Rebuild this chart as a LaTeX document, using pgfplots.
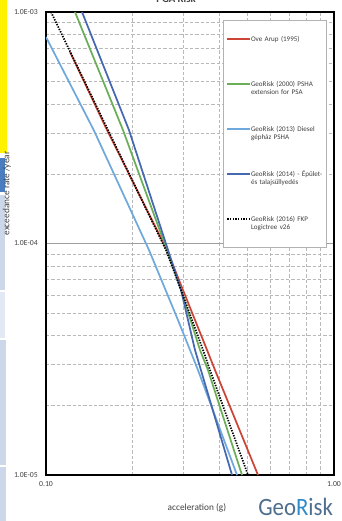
\documentclass[border=0pt]{standalone}
\usepackage{pgfplots}
\pgfplotsset{compat=1.18}
\usepackage{fontspec}
\setmainfont{Carlito}
\setsansfont{Carlito}
\definecolor{cRed}{HTML}{CC4436}
\definecolor{cGreen}{HTML}{6BAE58}
\definecolor{cLBlue}{HTML}{6FA8DC}
\definecolor{cDBlue}{HTML}{4668B0}
\definecolor{txt}{HTML}{404040}
\definecolor{logoGray}{HTML}{4E6E8E}
\definecolor{logoBlue}{HTML}{2E8BC9}
\definecolor{stripBlue}{HTML}{4A7DBF}
\definecolor{stripLight}{HTML}{CCD7EA}
\definecolor{stripLighter}{HTML}{E3E9F4}
\begin{document}
\begin{tikzpicture}[x=1pt,y=1pt]
\path[use as bounding box] (0,0) rectangle (256.5,390.75);
% decorative side strips
\fill[yellow] (0,276) rectangle (5,390.75);
\fill[stripBlue] (0,246.75) rectangle (3.5,272.25);
\fill[stripLight] (0,173.25) rectangle (3.5,244.5);
\fill[stripLighter] (0,137.25) rectangle (3.5,171.75);
\fill[stripLight] (0,42) rectangle (4.5,135.75);
\fill[stripLight] (0,0) rectangle (4.5,40.5);
% title (mostly cut off at the top, as in the reference)
\node[anchor=base, font=\bfseries\fontsize{8}{9}\selectfont, text=txt] at (132,388.5) {PGA Risk};
\begin{axis}[
  at={(34.5pt,34.5pt)}, anchor=south west,
  scale only axis, width=216pt, height=347.25pt,
  xmode=log, ymode=log,
  xmin=0.1, xmax=1, ymin=1e-5, ymax=1e-3,
  xtick={0.1,1}, xticklabels={0.10,1.00},
  ytick={1e-5,1e-4,1e-3}, yticklabels={1.0E-05,1.0E-04,1.0E-03},
  minor xtick={0.2,0.3,0.4,0.5,0.6,0.7,0.8,0.9},
  minor ytick={2e-5,3e-5,4e-5,5e-5,6e-5,7e-5,8e-5,9e-5,2e-4,3e-4,4e-4,5e-4,6e-4,7e-4,8e-4,9e-4},
  grid=both,
  major grid style={gray!75, line width=0.5pt},
  minor grid style={gray!55, dash pattern=on 2.5pt off 1.5pt, line width=0.5pt},
  tick style={draw=none},
  axis line style={line width=1.6pt, black},
  tick label style={font=\fontsize{5.8}{7}\selectfont, text=txt},
  xticklabel style={inner sep=0pt, yshift=-5pt},
  yticklabel style={inner sep=0pt, xshift=-6pt},
  xlabel={acceleration (g)},
  ylabel={exceedance rate /year},
  label style={font=\fontsize{7}{8}\selectfont, text=txt},
  x label style={at={(rel axis cs:0.524,-0.0713)}, anchor=center},
  y label style={at={(rel axis cs:-0.1354,0.608)}, anchor=center},
  legend image code/.code={\draw[#1] (0pt,1.8pt) -- (17pt,1.8pt);},
  legend cell align=left,
  legend style={at={(rel axis cs:0.6146,0.9827)}, anchor=north west,
    draw=gray!60, line width=0.4pt, fill=white,
    inner xsep=2.5pt, inner ysep=11.75pt, row sep=22.25pt,
    font=\fontsize{5.3}{6.2}\selectfont, text=txt,
    cells={anchor=base west},
    nodes={inner sep=0pt, text width=53.75pt, align=left, text height=4pt, text depth=7.5pt}},
]
\addplot[cRed, line width=1.3pt] coordinates {
(0.1212,6.72e-4) (0.1629,3.09e-4) (0.2631,9.37e-5) (0.2990,6.30e-5)
(0.3623,3.47e-5) (0.3863,2.84e-5) (0.5446,1e-5)};
\addlegendentry{Ove Arup (1995)}
\addplot[cGreen, line width=1.3pt] coordinates {
(0.1261,1e-3) (0.1851,3.09e-4) (0.2631,9.37e-5) (0.2943,6.30e-5)
(0.3425,3.47e-5) (0.3652,2.84e-5) (0.4793,1e-5)};
\addlegendentry{GeoRisk (2000) PSHA\\extension for PSA}
\addplot[cLBlue, line width=1.3pt] coordinates {
(0.1,7.80e-4) (0.1465,3.09e-4) (0.2279,9.37e-5) (0.2873,4.67e-5)
(0.3162,3.47e-5) (0.3371,2.84e-5) (0.4605,1e-5)};
\addlegendentry{GeoRisk (2013) Diesel\\gépház PSHA}
\addplot[cDBlue, line width=1.3pt] coordinates {
(0.1334,1e-3) (0.1942,3.09e-4) (0.2653,9.37e-5) (0.2943,6.30e-5)
(0.3291,3.47e-5) (0.4425,1e-5)};
\addlegendentry{GeoRisk (2014) - Épület-\\és talajsüllyedés}
\addplot[black, line width=1.3pt, dash pattern=on 1pt off 1pt] coordinates {
(0.1041,1e-3) (0.1642,3.09e-4) (0.2610,9.37e-5) (0.2943,6.30e-5)
(0.3509,3.47e-5) (0.3711,2.84e-5) (0.5028,1e-5)};
\addlegendentry{GeoRisk (2016) FKP\\Logictree v26}
\end{axis}
% logo
\node[anchor=south west, inner sep=0pt] at (193.5,4) {\resizebox{56pt}{13pt}{\textcolor{logoGray}{Geo}\textcolor{logoBlue}{R}\textcolor{logoGray}{isk}}};
\end{tikzpicture}
\end{document}
